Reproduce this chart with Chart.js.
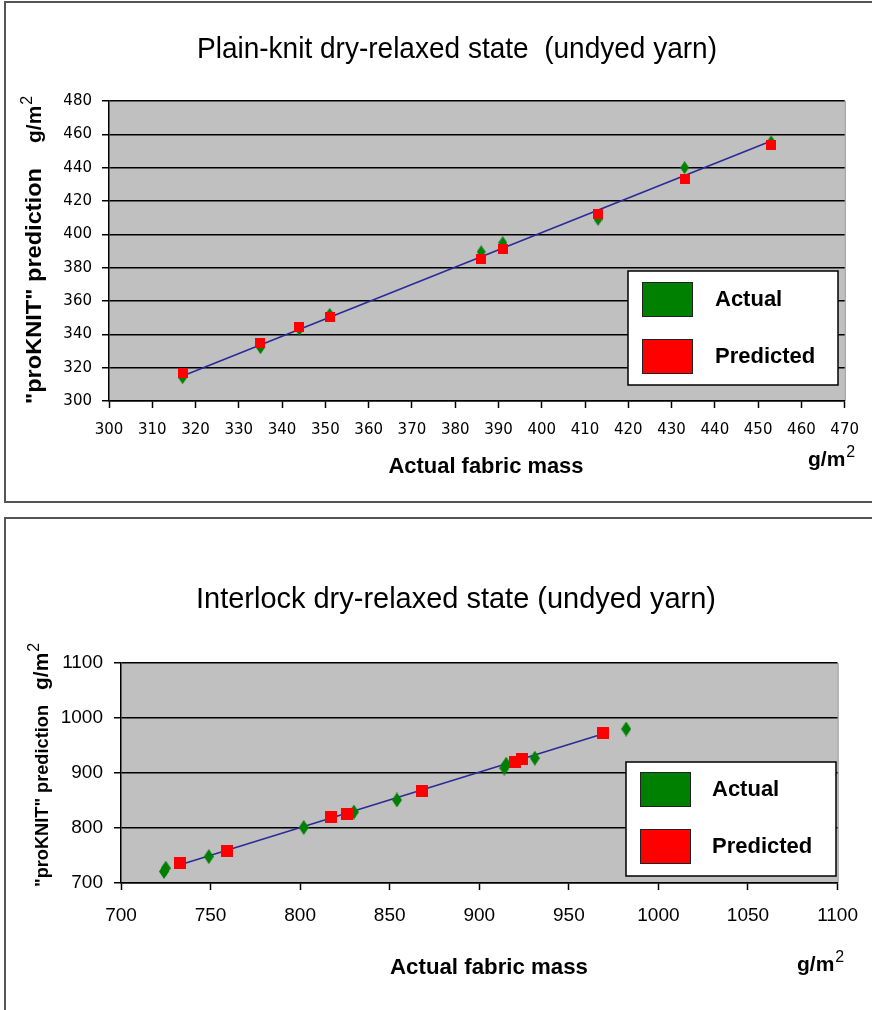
<!DOCTYPE html>
<html>
<head>
<meta charset="utf-8">
<script src="https://cdn.jsdelivr.net/npm/chart.js@4.4.0/dist/chart.umd.min.js"></script>
<style>
  body { margin: 0; background: #fff; width: 872px; height: 1010px; overflow: hidden; position: relative; }
  .panel { position: absolute; left: 4px; width: 900px; border: 2px solid #555; box-sizing: border-box; }
  #p1 { top: 1px; height: 502px; }
  #p2 { top: 517px; height: 520px; }
  .wrap { position: absolute; left: 0; width: 872px; height: 505px; }
  #w1 { top: 0; }
  #w2 { top: 505px; }
</style>
</head>
<body>
<div class="panel" id="p1"></div>
<div class="panel" id="p2"></div>
<div class="wrap" id="w1"><canvas id="c1" width="872" height="505"></canvas></div>
<div class="wrap" id="w2"><canvas id="c2" width="872" height="505"></canvas></div>
<script>
/* Plain-knit dry-relaxed */
const plainX = [317, 335, 344, 351, 386, 391, 413, 433, 453];
const plainActual = [314, 332, 343, 352, 389.5, 395, 409, 440, 455.5];
const plainPredicted = [317, 335, 344.5, 350.5, 385.5, 391, 412.5, 433, 453.5];
const plainTrendX = [317, 453];
const plainTrendY = [315, 456];

/* Interlock dry-relaxed */
const interActualX = [724, 725, 749, 802, 830, 854, 914, 915, 931, 982];
const interActual = [721, 727, 748, 801, 829, 851, 909, 916, 927, 980];
const interPredX = [733, 759, 817, 826, 868, 920, 924, 969];
const interPredicted = [736, 758, 820, 825, 867, 920, 926, 972];
const interTrendX = [733, 967];
const interTrendY = [733, 969];

const legendLabels = ['Actual', 'Predicted'];
const GREEN = '#008000';
const RED = '#ff0000';
const SANS = '"Liberation Sans", Arial, sans-serif';

const toPoints = (xs, ys) => xs.map((x, i) => ({ x, y: ys[i] }));

// marker images
function diamond(w, h) {
  const c = document.createElement('canvas');
  c.width = w; c.height = h;
  const g = c.getContext('2d');
  g.fillStyle = GREEN;
  g.beginPath();
  g.moveTo(w / 2, 0); g.lineTo(w, h / 2); g.lineTo(w / 2, h); g.lineTo(0, h / 2);
  g.closePath(); g.fill();
  return c;
}
function square(s) {
  const c = document.createElement('canvas');
  c.width = s; c.height = s;
  const g = c.getContext('2d');
  g.fillStyle = RED;
  g.fillRect(0, 0, s, s);
  return c;
}

function drawUnit(ctx, x, y, size) {
  ctx.save();
  ctx.textAlign = 'left';
  ctx.textBaseline = 'alphabetic';
  ctx.font = `bold ${size}px ${SANS}`;
  ctx.fillText('g/m', x, y);
  const w = ctx.measureText('g/m').width;
  ctx.font = `${Math.round(size * 0.75)}px ${SANS}`;
  ctx.fillText('2', x + w + 1, y - size * 0.45);
  ctx.restore();
}

function fittedText(ctx, text, cx, cy, width, font) {
  ctx.save();
  ctx.font = font;
  ctx.textAlign = 'center';
  ctx.textBaseline = 'middle';
  const w = ctx.measureText(text).width;
  ctx.translate(cx, cy);
  ctx.scale(width / w, 1);
  ctx.fillText(text, 0, 0);
  ctx.restore();
}

const decorPlugin = {
  id: 'decor',
  beforeDraw(chart) {
    const { ctx, chartArea: a } = chart;
    ctx.save();
    ctx.fillStyle = '#c0c0c0';
    ctx.fillRect(a.left, a.top, a.right - a.left, a.bottom - a.top);
    ctx.strokeStyle = '#808080';
    ctx.lineWidth = 1;
    ctx.beginPath();
    ctx.moveTo(a.right + 0.5, a.top); ctx.lineTo(a.right + 0.5, a.bottom);
    ctx.stroke();
    ctx.restore();
  },
  afterDraw(chart, args, o) {
    const { ctx } = chart;
    ctx.save();
    ctx.fillStyle = '#000';
    // title
    fittedText(ctx, o.title, o.titleX, o.titleY, o.titleW, `29px ${SANS}`);
    // x title
    fittedText(ctx, 'Actual fabric mass', o.xTitleX, o.xTitleY, o.xTitleW, `bold 22px ${SANS}`);
    drawUnit(ctx, o.xUnitX, o.xUnitY, 21);
    // y title (rotated)
    ctx.save();
    ctx.translate(o.yTitleX, o.yTitleBottom);
    ctx.rotate(-Math.PI / 2);
    ctx.font = `bold ${o.yTitleSize}px ${SANS}`;
    ctx.textAlign = 'left';
    ctx.textBaseline = 'alphabetic';
    const txt = '"proKNIT" prediction';
    const w = ctx.measureText(txt).width;
    ctx.save();
    ctx.scale(o.yTitleW / w, 1);
    ctx.fillText(txt, 0, 0);
    ctx.restore();
    drawUnit(ctx, o.yUnitOffset, 0, 21);
    ctx.restore();
    // legend
    const L = o.legend;
    ctx.fillStyle = '#fff';
    ctx.fillRect(L.x, L.y, L.w, L.h);
    ctx.strokeStyle = '#000';
    ctx.lineWidth = 1.5;
    ctx.strokeRect(L.x, L.y, L.w, L.h);
    const colors = [GREEN, RED];
    legendLabels.forEach((lab, i) => {
      const sy = L.y + L.sw[i];
      ctx.fillStyle = colors[i];
      ctx.fillRect(L.x + 14, sy, 50, 34);
      ctx.strokeStyle = '#222';
      ctx.lineWidth = 1;
      ctx.strokeRect(L.x + 14.5, sy + 0.5, 50, 34);
      ctx.fillStyle = '#000';
      ctx.font = `bold 22px ${SANS}`;
      ctx.textAlign = 'left';
      ctx.textBaseline = 'middle';
      ctx.fillText(lab, L.x + L.tx, sy + 18);
    });
    ctx.restore();
  }
};

function makeChart(id, cfg) {
  const tickFont = cfg.tickFont;
  return new Chart(document.getElementById(id), {
    type: 'scatter',
    data: {
      datasets: [
        {
          label: 'trend',
          data: toPoints(cfg.trendX, cfg.trendY),
          showLine: true,
          borderColor: '#2b2b96',
          borderWidth: 1.6,
          pointRadius: 0,
          order: 3
        },
        {
          label: legendLabels[0],
          data: toPoints(cfg.actualX, cfg.actual),
          pointStyle: diamond(cfg.dw, cfg.dh),
          order: 2
        },
        {
          label: legendLabels[1],
          data: toPoints(cfg.predX, cfg.predicted),
          pointStyle: square(cfg.sq),
          order: 1
        }
      ]
    },
    options: {
      responsive: false,
      animation: false,
      layout: { padding: { left: 0, top: cfg.area.top, right: 872 - cfg.area.right, bottom: 0 } },
      plugins: {
        legend: { display: false },
        tooltip: { enabled: false },
        decor: cfg.decor
      },
      scales: {
        x: {
          type: 'linear',
          min: cfg.xMin, max: cfg.xMax,
          afterFit: s => { s.height = 505 - cfg.area.bottom; },
          ticks: { stepSize: cfg.xStep, color: '#000', font: tickFont, padding: cfg.xPad, maxRotation: 0, callback: v => String(v) },
          grid: { drawOnChartArea: false, drawTicks: true, tickLength: 7, tickColor: '#000', tickWidth: 1.5 },
          border: { color: '#000', width: 1.5 }
        },
        y: {
          type: 'linear',
          min: cfg.yMin, max: cfg.yMax,
          afterFit: s => { s.width = cfg.area.left; },
          ticks: { stepSize: cfg.yStep, color: '#000', font: tickFont, padding: cfg.yPad, callback: v => String(v) },
          grid: { color: '#000', lineWidth: 1.5, drawTicks: true, tickLength: 7, tickColor: '#000', tickWidth: 1.5 },
          border: { color: '#000', width: 1.5 }
        }
      }
    },
    plugins: [decorPlugin]
  });
}

makeChart('c1', {
  trendX: plainTrendX, trendY: plainTrendY,
  actualX: plainX, actual: plainActual,
  predX: plainX, predicted: plainPredicted,
  dw: 9, dh: 13, sq: 10,
  area: { left: 109, right: 846, top: 101, bottom: 401 },
  xMin: 300, xMax: 470, xStep: 10,
  yMin: 300, yMax: 480, yStep: 20,
  xPad: 13, yPad: 10,
  tickFont: { family: '"DejaVu Sans", Verdana, sans-serif', size: 15 },
  decor: {
    title: 'Plain-knit dry-relaxed state  (undyed yarn)', titleX: 457, titleY: 50, titleW: 520,
    xTitleX: 486, xTitleY: 467, xTitleW: 195,
    xUnitX: 808, xUnitY: 466,
    yTitleX: 41, yTitleBottom: 404, yTitleSize: 22, yTitleW: 236, yUnitOffset: 261,
    legend: { x: 628, y: 271, w: 210, h: 114, sw: [11, 68], tx: 87 }
  }
});

makeChart('c2', {
  trendX: interTrendX, trendY: interTrendY,
  actualX: interActualX, actual: interActual,
  predX: interPredX, predicted: interPredicted,
  dw: 10, dh: 15, sq: 12,
  area: { left: 121, right: 841, top: 158, bottom: 378 },
  xMin: 700, xMax: 1100, xStep: 50,
  yMin: 700, yMax: 1100, yStep: 100,
  xPad: 14, yPad: 11,
  tickFont: { family: SANS, size: 19 },
  decor: {
    title: 'Interlock dry-relaxed state (undyed yarn)', titleX: 456, titleY: 95, titleW: 520,
    xTitleX: 489, xTitleY: 463, xTitleW: 198,
    xUnitX: 797, xUnitY: 466,
    yTitleX: 48, yTitleBottom: 382, yTitleSize: 18, yTitleW: 182, yUnitOffset: 197,
    legend: { x: 626, y: 257, w: 210, h: 114, sw: [10, 67], tx: 86 }
  }
});
</script>
</body>
</html>
